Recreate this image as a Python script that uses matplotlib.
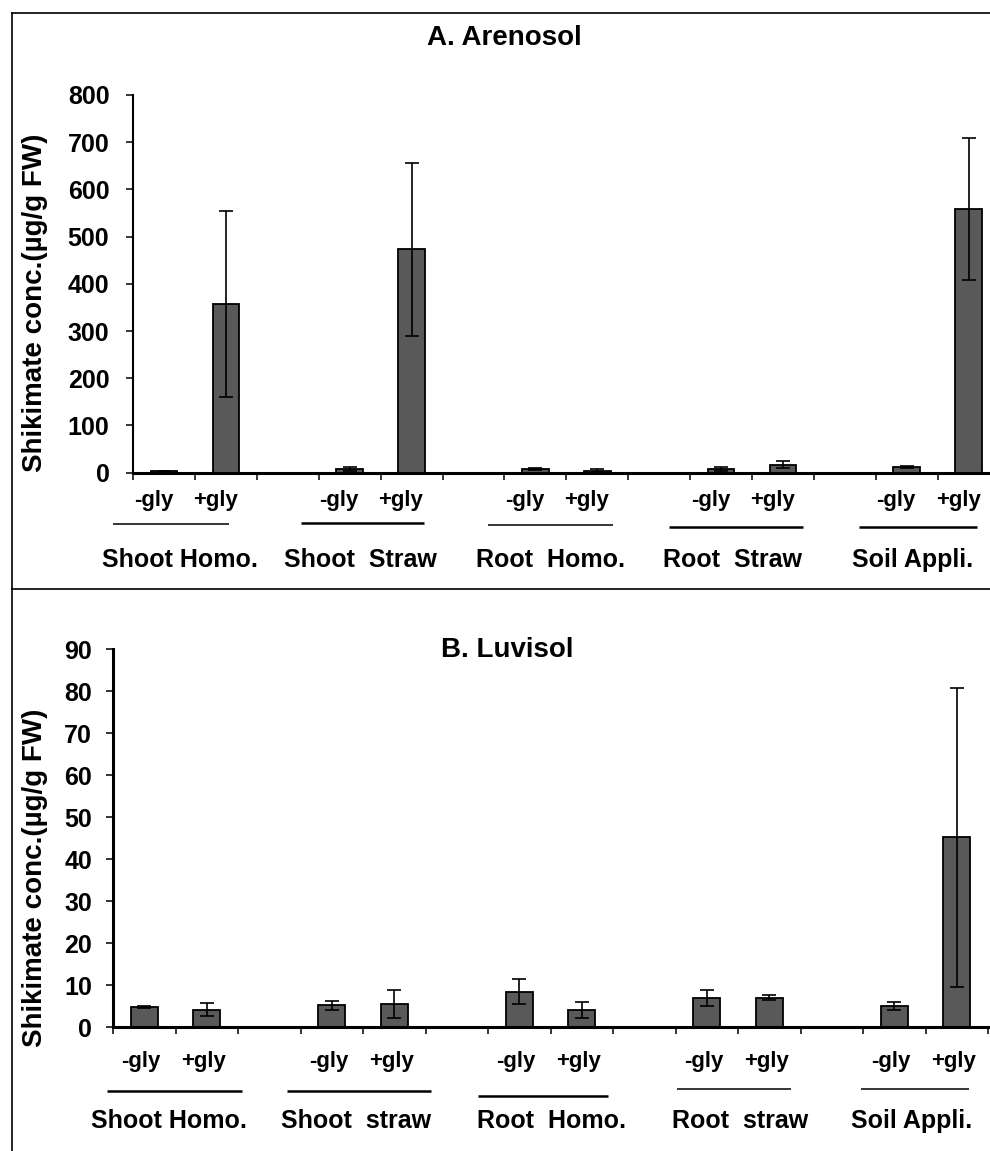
import numpy as np
import matplotlib.pyplot as plt
from matplotlib.lines import Line2D
from matplotlib.transforms import blended_transform_factory

plt.rcParams['font.family'] = ['Liberation Sans', 'DejaVu Sans']
plt.rcParams['font.weight'] = 'bold'

W, H = 990, 1151

treat = ['-gly', '+gly']
groups_a = ['Shoot Homo.', 'Shoot  Straw', 'Root  Homo.', 'Root  Straw', 'Soil Appli.']
groups_b = ['Shoot Homo.', 'Shoot  straw', 'Root  Homo.', 'Root  straw', 'Soil Appli.']

# A. Arenosol: shikimate (ug/g FW), mean and error per group
are_minus = [3, 8, 8, 8, 12]
are_minus_err = [1, 4, 2, 4, 2]
are_plus = [357, 473, 4, 17, 559]
are_plus_err = [197, 184, 3, 8, 150]

# B. Luvisol
luv_minus = [4.8, 5.2, 8.5, 7.0, 5.1]
luv_minus_err = [0.3, 1.0, 2.9, 1.9, 1.0]
luv_plus = [4.2, 5.6, 4.1, 7.0, 45.2]
luv_plus_err = [1.6, 3.4, 1.9, 0.6, 35.5]


def fy(px):
    return 1 - px / H


def panel(fig, rect, minus, minus_err, plus, plus_err, ymax, ystep,
          title, title_xy, groups, label_y, tick_shift,
          grp_x, grp_lines, grp_label_y, ylab_y, spine_w, ypad):
    ax = fig.add_axes(rect)
    pos = np.arange(len(minus)) * 3
    kw = dict(width=0.43, color='#595959', edgecolor='black', linewidth=1.3,
              error_kw=dict(ecolor='black', elinewidth=1.2, capsize=4.8, capthick=1.2))
    ax.bar(pos, minus, yerr=minus_err, **kw)
    ax.bar(pos + 1, plus, yerr=plus_err, **kw)

    ax.set_xlim(-0.5, 13.5)
    ax.set_ylim(0, ymax)
    ax.set_yticks(np.arange(0, ymax + 1, ystep))
    ax.set_xticks(np.arange(-0.5, 14, 1))
    ax.set_xticklabels([])
    ax.tick_params(axis='y', direction='out', length=5, width=1.1,
                   labelsize=18, pad=ypad)
    ax.tick_params(axis='x', direction='out', length=5, width=1.1)
    for s in ('top', 'right'):
        ax.spines[s].set_visible(False)
    ax.spines['left'].set_linewidth(spine_w)
    ax.spines['bottom'].set_linewidth(2.2)

    tr = blended_transform_factory(ax.transData, fig.transFigure)
    for p in pos:
        for k, t in enumerate(treat):
            ax.text(p + k + tick_shift, fy(label_y), t, transform=tr,
                    ha='center', va='baseline', fontsize=16)
    for g, gx, (x0, x1, ly, lw) in zip(groups, grp_x, grp_lines):
        ax.text(gx, fy(grp_label_y), g, transform=tr, ha='center',
                va='baseline', fontsize=18)
        ax.plot([x0, x1], [fy(ly), fy(ly)], transform=tr, color='black',
                lw=lw, clip_on=False, solid_capstyle='butt')

    fig.text(title_xy[0] / W, fy(title_xy[1]), title, ha='center',
             va='baseline', fontsize=20)
    fig.text(35 / W, fy(ylab_y), 'Shikimate conc.(µg/g FW)', rotation=90,
             ha='center', va='center', fontsize=20)
    return ax


fig = plt.figure(figsize=(W / 100, H / 100), dpi=100, facecolor='white')

panel(fig, [133 / W, fy(472.7), 866.6 / W, 377.7 / H],
      are_minus, are_minus_err, are_plus, are_plus_err, 800, 100,
      'A. Arenosol', (504, 45), groups_a, 506, -0.17,
      [0.26, 3.18, 6.25, 9.19, 12.1],
      [(-0.82, 1.05, 524.3, 1.1), (2.21, 4.20, 523.3, 1.8),
       (5.24, 7.25, 525, 1.1), (8.16, 10.32, 527.3, 1.8),
       (11.23, 13.13, 527.3, 1.8)],
      567, 303, 1.5, 12)

panel(fig, [113 / W, fy(1027.3), 875 / W, 378 / H],
      luv_minus, luv_minus_err, luv_plus, luv_plus_err, 90, 10,
      'B. Luvisol', (507, 656.7), groups_b, 1066.7, -0.05,
      [0.4, 3.39, 6.52, 9.53, 12.28],
      [(-0.6, 1.56, 1091, 1.8), (2.28, 4.59, 1091, 1.8),
       (5.34, 7.42, 1096, 1.8), (8.52, 10.35, 1089, 1.1),
       (11.47, 13.2, 1089, 1.1)],
      1127.7, 878, 2.2, 10)

# panel frame
for xs, ys in [([11.7 / W, 1], [fy(12.7), fy(12.7)]),
               ([11.7 / W, 11.7 / W], [fy(12.7), 0]),
               ([11.7 / W, 1], [fy(589), fy(589)])]:
    fig.add_artist(Line2D(xs, ys, transform=fig.transFigure, color='black', lw=1.2))

fig.savefig('out.png', dpi=100, facecolor='white')
